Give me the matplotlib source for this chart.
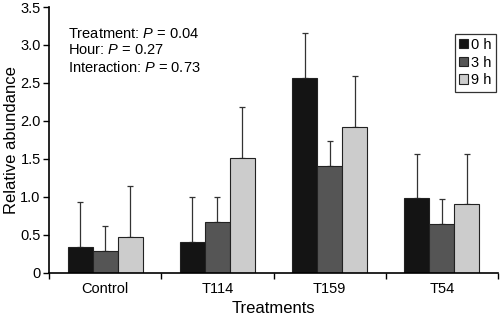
import matplotlib
matplotlib.use("Agg")
import matplotlib.pyplot as plt
import numpy as np

plt.rcParams['font.family'] = ['Liberation Sans', 'DejaVu Sans']
plt.rcParams['mathtext.fontset'] = 'custom'
plt.rcParams['mathtext.it'] = 'Liberation Sans:italic'
plt.rcParams['mathtext.rm'] = 'Liberation Sans'

categories = ["Control", "T114", "T159", "T54"]
series = ["0 h", "3 h", "9 h"]
means_0h = [0.34, 0.41, 2.57, 0.98]
means_3h = [0.28, 0.67, 1.40, 0.64]
means_9h = [0.47, 1.51, 1.92, 0.90]
err_0h = [0.59, 0.59, 0.59, 0.59]
err_3h = [0.33, 0.33, 0.33, 0.33]
err_9h = [0.67, 0.67, 0.67, 0.67]
colors = ["#141414", "#555555", "#cccccc"]
yticks = [0, 0.5, 1.0, 1.5, 2.0, 2.5, 3.0, 3.5]
ytick_labels = ["0", "0.5", "1.0", "1.5", "2.0", "2.5", "3.0", "3.5"]

fig = plt.figure(figsize=(5.0, 3.19), dpi=100)
ax = fig.add_axes([0.098, 0.145, 0.898, 0.833])

x = np.arange(len(categories))
w = 0.223
all_means = [means_0h, means_3h, means_9h]
all_errs = [err_0h, err_3h, err_9h]
for i, (m, e, c, s) in enumerate(zip(all_means, all_errs, colors, series)):
    ax.bar(x + (i - 1) * w, m, width=w, color=c, edgecolor="#222222", linewidth=0.8, label=s, zorder=2)
    ax.errorbar(x + (i - 1) * w, m, yerr=[np.zeros(len(m)), e], fmt="none",
                ecolor="#333333", elinewidth=0.9, capsize=2.5, capthick=0.9, zorder=1)

ax.set_xlim(-0.5, 3.5)
ax.set_ylim(0, 3.5)
ax.set_yticks(yticks)
ax.set_yticklabels(ytick_labels)
ax.set_xticks(x)
ax.set_xticklabels(categories)
ax.set_xticks([-0.5, 0.5, 1.5, 2.5, 3.5], minor=True)
ax.tick_params(axis='x', which='major', length=0, pad=7, labelsize=10.5)
ax.tick_params(axis='x', which='minor', length=4, direction='out', width=1)
ax.tick_params(axis='y', length=4, direction='out', width=1, labelsize=10.5, pad=2)
for sp in ["top", "right"]:
    ax.spines[sp].set_visible(False)
for sp in ["left", "bottom"]:
    ax.spines[sp].set_linewidth(1.2)

ax.set_ylabel("Relative abundance", fontsize=12, labelpad=1)
ax.set_xlabel("Treatments", fontsize=12, labelpad=3)

ax.text(0.043, 0.925, "Treatment: $\\it{P}$ = 0.04\nHour: $\\it{P}$ = 0.27\nInteraction: $\\it{P}$ = 0.73",
        transform=ax.transAxes, fontsize=10.5, va="top", ha="left", linespacing=1.2)

leg = ax.legend(loc="upper right", bbox_to_anchor=(0.995, 0.9), frameon=True, fancybox=False,
                edgecolor="black", fontsize=10.5, handlelength=0.6, handleheight=0.6,
                handletextpad=0.2, borderpad=0.3, labelspacing=0.25, borderaxespad=0.0)
leg.get_frame().set_linewidth(0.9)

fig.savefig("out.png", dpi=100)
